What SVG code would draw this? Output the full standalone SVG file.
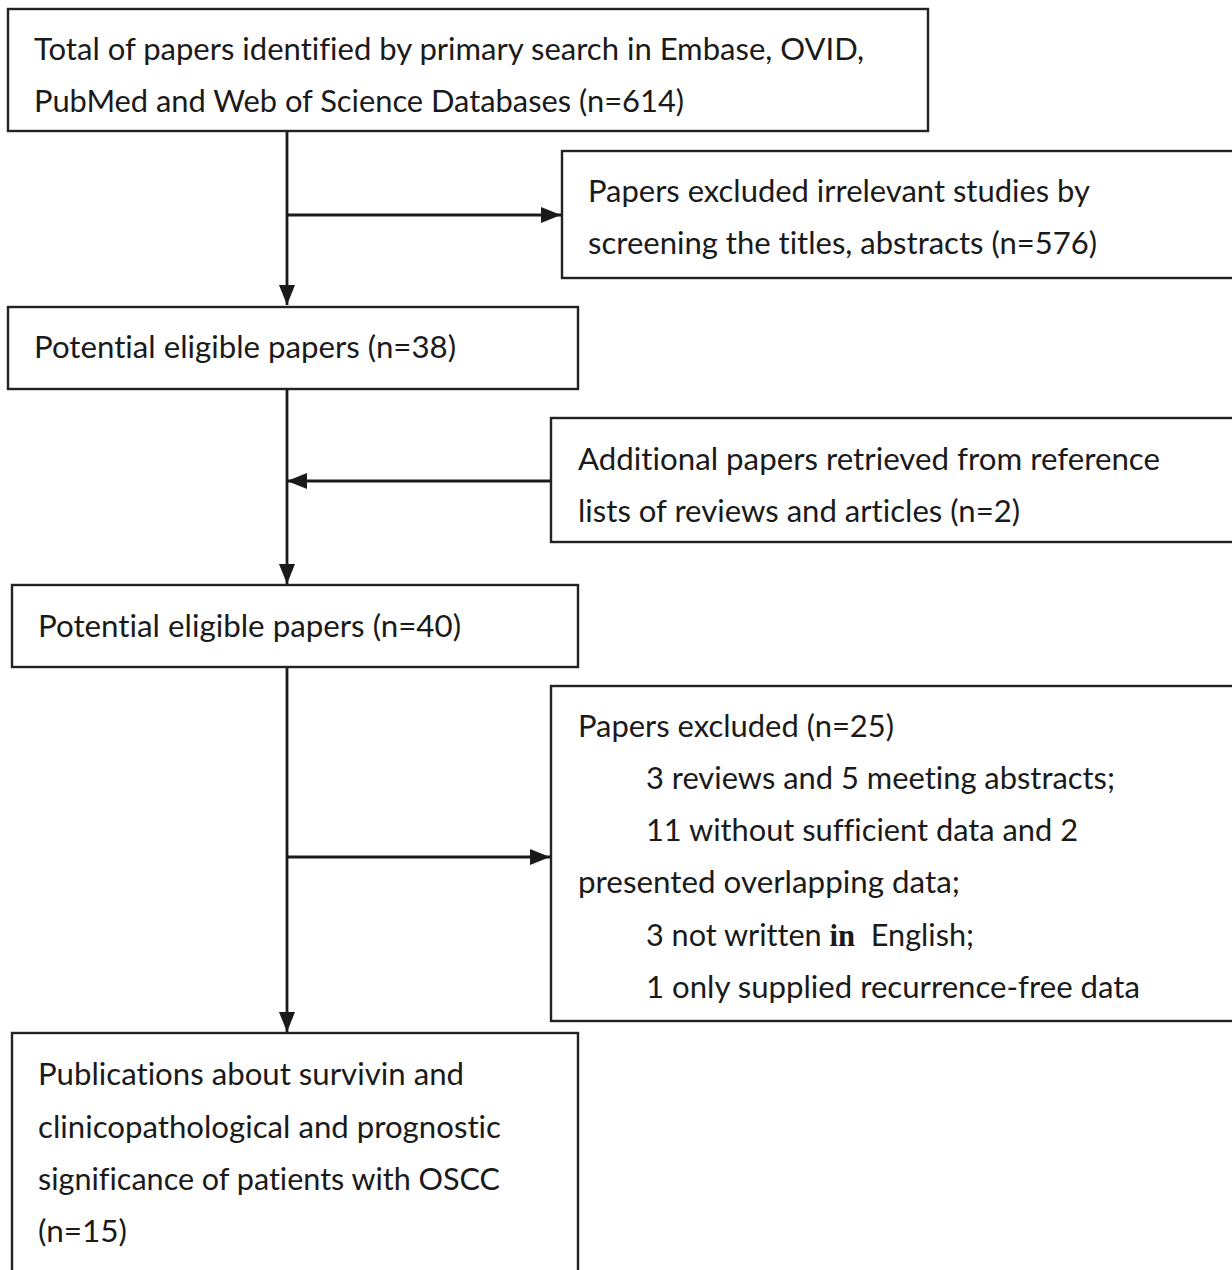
<svg xmlns="http://www.w3.org/2000/svg" width="1232" height="1270" viewBox="0 0 1232 1270">
<style>
.box{fill:#fff;stroke:#222;stroke-width:2.4}
.t{font-family:Lato,"Open Sans","Liberation Sans",sans-serif;font-size:31px;fill:#1a1a1a;font-variant-ligatures:none}
.c{stroke:#1a1a1a;stroke-width:2.8;fill:none}
</style>
<defs>
<marker id="ah" viewBox="0 0 20 16" refX="20" refY="8" markerWidth="20" markerHeight="16" markerUnits="userSpaceOnUse" orient="auto">
<path d="M0,0 L20,8 L0,16 Z" fill="#1a1a1a"/>
</marker>
</defs>
<rect width="1232" height="1270" fill="#fff"/>
<g id="connectors">
<line class="c" x1="287" y1="131" x2="287" y2="305" marker-end="url(#ah)"/>
<line class="c" x1="287" y1="215" x2="561" y2="215" marker-end="url(#ah)"/>
<line class="c" x1="287" y1="389" x2="287" y2="584" marker-end="url(#ah)"/>
<line class="c" x1="551" y1="481" x2="287" y2="481" marker-end="url(#ah)"/>
<line class="c" x1="287" y1="667" x2="287" y2="1032" marker-end="url(#ah)"/>
<line class="c" x1="287" y1="857" x2="550" y2="857" marker-end="url(#ah)"/>
</g>
<g id="n1">
<rect class="box" x="8" y="9" width="920" height="122"/>
<text class="t" x="34" y="60" textLength="830" lengthAdjust="spacingAndGlyphs">Total of papers identified by primary search in Embase, OVID,</text>
<text class="t" x="34" y="112" textLength="650" lengthAdjust="spacingAndGlyphs">PubMed and Web of Science Databases (n=614)</text>
</g>
<g id="n2">
<rect class="box" x="562" y="151" width="690" height="127"/>
<text class="t" x="588" y="202" textLength="502" lengthAdjust="spacingAndGlyphs">Papers excluded irrelevant studies by</text>
<text class="t" x="588" y="254" textLength="509" lengthAdjust="spacingAndGlyphs">screening the titles, abstracts (n=576)</text>
</g>
<g id="n3">
<rect class="box" x="8" y="307" width="570" height="82"/>
<text class="t" x="34" y="358" textLength="422" lengthAdjust="spacingAndGlyphs">Potential eligible papers (n=38)</text>
</g>
<g id="n4">
<rect class="box" x="551" y="418" width="701" height="124"/>
<text class="t" x="578" y="470" textLength="582" lengthAdjust="spacingAndGlyphs">Additional papers retrieved from reference</text>
<text class="t" x="578" y="522" textLength="442" lengthAdjust="spacingAndGlyphs">lists of reviews and articles (n=2)</text>
</g>
<g id="n5">
<rect class="box" x="12" y="585" width="566" height="82"/>
<text class="t" x="38" y="637" textLength="423" lengthAdjust="spacingAndGlyphs">Potential eligible papers (n=40)</text>
</g>
<g id="n6">
<rect class="box" x="551" y="686" width="701" height="335"/>
<text class="t" x="578" y="737" textLength="316" lengthAdjust="spacingAndGlyphs">Papers excluded (n=25)</text>
<text class="t" x="646" y="789" textLength="469" lengthAdjust="spacingAndGlyphs">3 reviews and 5 meeting abstracts;</text>
<text class="t" x="646" y="841" textLength="432" lengthAdjust="spacingAndGlyphs">11 without sufficient data and 2</text>
<text class="t" x="578" y="893" textLength="382" lengthAdjust="spacingAndGlyphs">presented overlapping data;</text>
<text class="t" x="646" y="946" textLength="328" lengthAdjust="spacingAndGlyphs" xml:space="preserve">3 not written <tspan font-family="'Liberation Serif',serif" font-weight="bold">in</tspan>  English;</text>
<text class="t" x="646" y="998" textLength="494" lengthAdjust="spacingAndGlyphs">1 only supplied recurrence-free data</text>
</g>
<g id="n7">
<rect class="box" x="12" y="1033" width="566" height="250"/>
<text class="t" x="38" y="1085" textLength="426" lengthAdjust="spacingAndGlyphs">Publications about survivin and</text>
<text class="t" x="38" y="1138" textLength="463" lengthAdjust="spacingAndGlyphs">clinicopathological and prognostic</text>
<text class="t" x="38" y="1190" textLength="462" lengthAdjust="spacingAndGlyphs">significance of patients with OSCC</text>
<text class="t" x="38" y="1242" textLength="89" lengthAdjust="spacingAndGlyphs">(n=15)</text>
</g>
</svg>
